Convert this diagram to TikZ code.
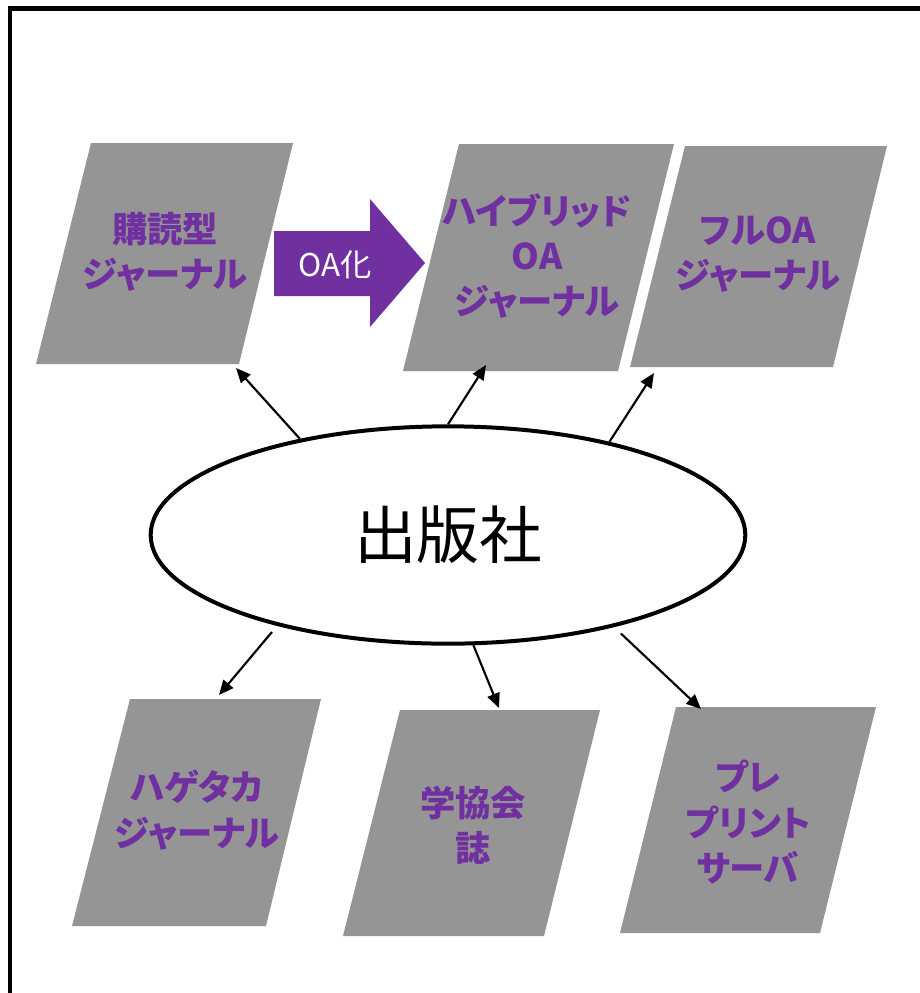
\documentclass[tikz,border=0pt]{standalone}
\usepackage{fontspec}
\usepackage{tikz}
\usetikzlibrary{arrows.meta,shapes.geometric}
\newfontfamily\jpfont[RawFeature=+palt]{Noto Sans CJK JP}
\definecolor{oapurple}{HTML}{7030A0}
\definecolor{shadegray}{HTML}{959595}

\begin{document}
\begin{tikzpicture}[x=0.75pt,y=0.75pt,yscale=-1,xscale=1,
  journal/.style={fill=shadegray},
  jlabel/.style={text=oapurple,align=center,inner sep=0.75pt,font={\jpfont\bfseries\fontsize{26.5}{34}\selectfont}},
  conn/.style={line width=1.6pt,-{Triangle[length=11pt,width=9.5pt]}}]
\useasboundingbox (0,0) rectangle (920,993);
%Frame
\draw[line width=3.2pt] (10,8.5) rectangle (960,1030);
%Parallelograms
\fill[journal] (91,143) -- (293,143) -- (239,364) -- (36,364) -- cycle;
\fill[journal] (459,144) -- (674,144) -- (618,371) -- (403,371) -- cycle;
\fill[journal] (685,146) -- (887,146) -- (833,367) -- (630,367) -- cycle;
\fill[journal] (130,699) -- (321,699) -- (266,926) -- (72,926) -- cycle;
\fill[journal] (400,710) -- (600,710) -- (544,936) -- (343,936) -- cycle;
\fill[journal] (676,707) -- (876,707) -- (820,933) -- (620,933) -- cycle;
%Block Arrow
\fill[oapurple] (274,231) -- (370,231) -- (370,199) -- (425,263) -- (370,327) -- (370,296) -- (274,296) -- cycle;
% Text Node
\node[text=white,inner sep=0.75pt,font={\jpfont\fontsize{23.5}{26}\selectfont}] (oa) at (335,265) {OA化};
% Text Node
\node[jlabel] (sub) at (165,252) {購読型\\ジャーナル};
\node[jlabel] (hyb) at (537,256) {ハイブリッド\\OA\\ジャーナル};
\node[jlabel] (full) at (758,254) {フルOA\\ジャーナル};
\node[jlabel] (pred) at (197,810) {ハゲタカ\\ジャーナル};
\node[jlabel] (soc) at (473,825) {学協会\\誌};
\node[jlabel] (pre) at (748,822) {プレ\\プリント\\サーバ};
%Ellipse
\node[ellipse,draw,line width=3pt,fill=white,minimum width=446pt,minimum height=163pt,inner sep=0pt,font={\jpfont\fontsize{47}{52}\selectfont}] (pub) at (448,535) {出版社};
%Arrow ends
\coordinate (sub-in) at (236,368);
\coordinate (hyb-in) at (486,365);
\coordinate (full-in) at (654,373);
\coordinate (pred-in) at (219,695);
\coordinate (soc-in) at (499,708);
\coordinate (pre-in) at (701,709);
%Straight Lines
\draw[conn] (pub.147.8) -- (sub-in);
\draw[conn] (pub.90) -- (hyb-in);
\draw[conn] (pub.30) -- (full-in);
\draw[conn,shorten <=6pt] (pub.208.6) -- (pred-in);
\draw[conn] (pub.283.4) -- (soc-in);
\draw[conn,shorten <=7pt] (pub.331.6) -- (pre-in);
\end{tikzpicture}
\end{document}
